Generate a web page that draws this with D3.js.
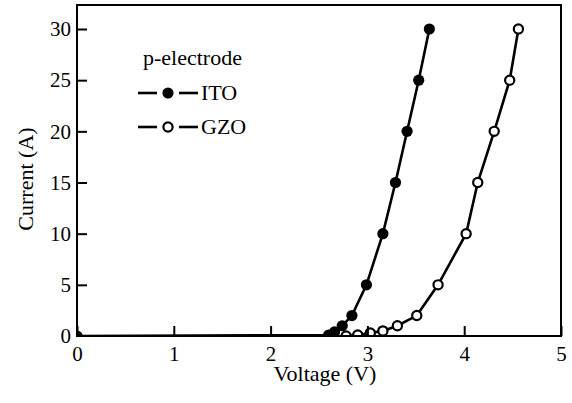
<!DOCTYPE html>
<html>
<head>
<meta charset="utf-8">
<script src="https://cdn.jsdelivr.net/npm/d3@7"></script>
<style>
  html, body { margin: 0; padding: 0; background: #fff; }
  svg { display: block; font-family: "Liberation Serif", "DejaVu Serif", serif; }
</style>
</head>
<body>
<div id="chart"></div>
<script>
const itoVoltage = [0, 2.6, 2.66, 2.74, 2.84, 2.99, 3.16, 3.29, 3.41, 3.53, 3.64];
const itoCurrent = [0, 0.1, 0.4, 1, 2, 5, 10, 15, 20, 25, 30];
const gzoVoltage = [2.78, 2.9, 3.03, 3.16, 3.31, 3.51, 3.73, 4.02, 4.14, 4.31, 4.47, 4.56];
const gzoCurrent = [0, 0.1, 0.3, 0.5, 1, 2, 5, 10, 15, 20, 25, 30];
const xTicks = [0, 1, 2, 3, 4, 5];
const yTicks = [0, 5, 10, 15, 20, 25, 30];
const legendTitle = "p-electrode";
const seriesNames = ["ITO", "GZO"];

const width = 572;
const height = 403;
const margin = { top: 5, right: 11, bottom: 67, left: 77 };
const innerWidth = width - margin.left - margin.right;
const innerHeight = height - margin.top - margin.bottom;
const fontSize = 21;

const x = d3.scaleLinear().domain([0, 5]).range([0, 484]);
const y = d3.scaleLinear().domain([0, 30]).range([innerHeight, innerHeight - 307]);

const series = [
  { name: seriesNames[0], filled: true, points: itoVoltage.map((v, i) => ({ v, c: itoCurrent[i] })) },
  { name: seriesNames[1], filled: false, points: gzoVoltage.map((v, i) => ({ v, c: gzoCurrent[i] })) }
];

const svg = d3.select("#chart").append("svg")
  .attr("width", width)
  .attr("height", height);

const chart = svg.append("g")
  .attr("transform", `translate(${margin.left}, ${margin.top})`);

svg.append("defs").append("clipPath")
  .attr("id", "plot-clip")
  .append("rect")
  .attr("width", innerWidth)
  .attr("height", innerHeight);

const plot = chart.append("g").attr("clip-path", "url(#plot-clip)");

const line = d3.line().x(d => x(d.v)).y(d => y(d.c));

const drawMarker = (sel, filled) => sel
  .attr("r", filled ? 5.6 : 4.6)
  .attr("fill", filled ? "#000" : "#fff")
  .attr("stroke", "#000")
  .attr("stroke-width", filled ? 0 : 2.2);

series.forEach(s => {
  plot.append("path")
    .datum(s.points)
    .attr("fill", "none")
    .attr("stroke", "#000")
    .attr("stroke-width", 2.6)
    .attr("d", line);

  plot.selectAll(null)
    .data(s.points)
    .join("circle")
    .attr("cx", d => x(d.v))
    .attr("cy", d => y(d.c))
    .call(drawMarker, s.filled);
});

// frame
chart.append("rect")
  .attr("width", innerWidth)
  .attr("height", innerHeight)
  .attr("fill", "none")
  .attr("stroke", "#000")
  .attr("stroke-width", 2);

chart.append("g")
  .attr("transform", `translate(0, ${innerHeight})`)
  .call(d3.axisBottom(x).tickValues(xTicks).tickFormat(d3.format("d"))
    .tickSizeInner(-10).tickSizeOuter(0).tickPadding(10))
  .call(g => g.select(".domain").remove())
  .call(g => g.selectAll("line").attr("stroke-width", 2))
  .call(g => g.selectAll("text")
    .attr("font-family", "Liberation Serif")
    .attr("font-size", fontSize)
    .attr("fill", "#000"));

chart.append("g")
  .call(d3.axisLeft(y).tickValues(yTicks).tickFormat(d3.format("d"))
    .tickSizeInner(-10).tickSizeOuter(0).tickPadding(6))
  .call(g => g.select(".domain").remove())
  .call(g => g.selectAll("line").attr("stroke-width", 2))
  .call(g => g.selectAll(".tick").filter(d => d === 0).select("line").remove())
  .call(g => g.selectAll("text")
    .attr("font-family", "Liberation Serif")
    .attr("font-size", fontSize)
    .attr("fill", "#000"));

svg.append("text")
  .attr("x", 325)
  .attr("y", 381)
  .attr("text-anchor", "middle")
  .attr("font-size", 22)
  .text("Voltage (V)");

svg.append("text")
  .attr("transform", "translate(33, 179) rotate(-90)")
  .attr("text-anchor", "middle")
  .attr("font-size", 22)
  .text("Current (A)");

// legend
const legend = svg.append("g");
legend.append("text")
  .attr("x", 143)
  .attr("y", 65)
  .attr("font-size", 22)
  .text(legendTitle);

series.forEach((s, i) => {
  const ly = 93 + i * 34;
  [[138, 157], [179, 198]].forEach(([a, b]) => {
    legend.append("line")
      .attr("x1", a).attr("x2", b)
      .attr("y1", ly).attr("y2", ly)
      .attr("stroke", "#000")
      .attr("stroke-width", 2.6);
  });
  legend.append("circle")
    .attr("cx", 168)
    .attr("cy", ly)
    .call(drawMarker, s.filled);
  legend.append("text")
    .attr("x", 201)
    .attr("y", ly + 7)
    .attr("font-size", 22)
    .text(s.name);
});
</script>
</body>
</html>
